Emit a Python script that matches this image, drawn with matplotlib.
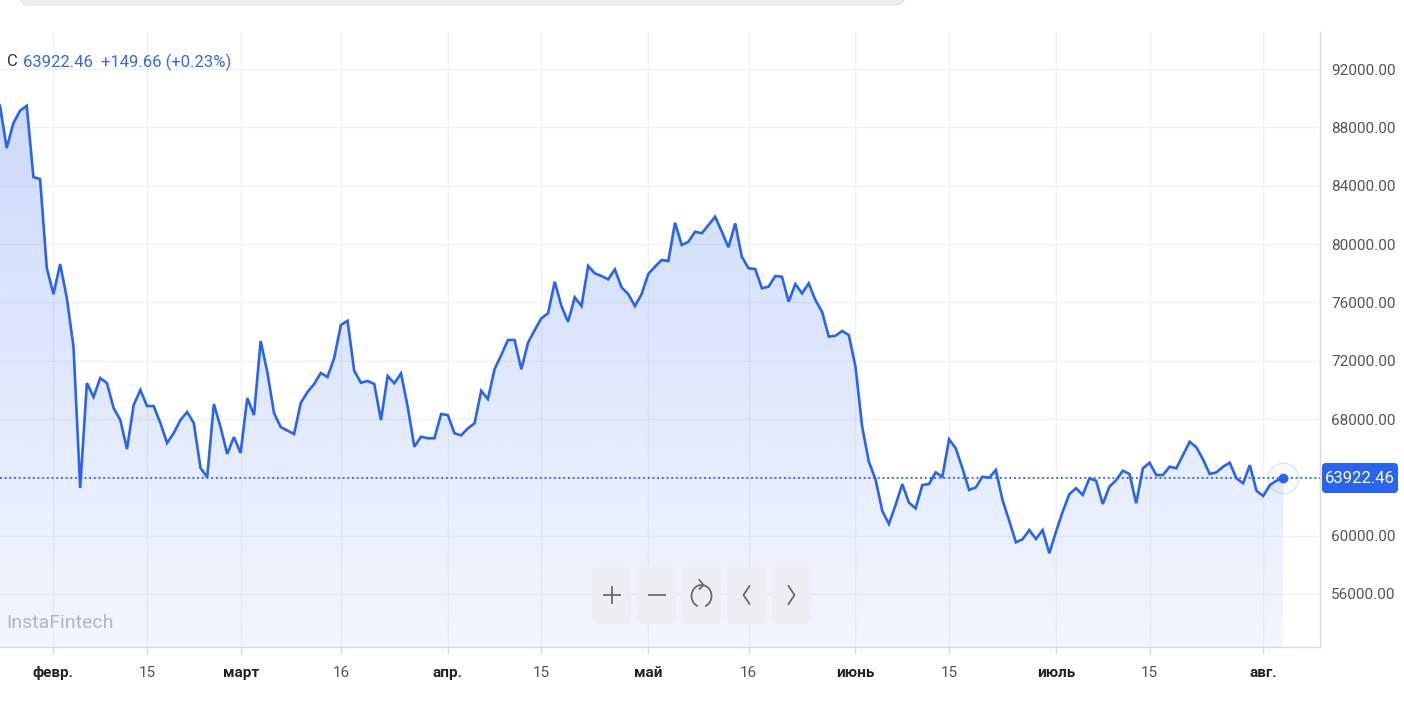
import numpy as np
import pandas as pd
import matplotlib
matplotlib.use("Agg")
import matplotlib.pyplot as plt
import matplotlib.dates as mdates
from matplotlib.patches import FancyBboxPatch, PathPatch, Arc

plt.rcParams["font.family"] = ["Roboto", "DejaVu Sans"]

# ---------------- data ----------------
dates = pd.date_range("2025-01-24", "2025-08-04", freq="D").drop(
    pd.to_datetime(["2025-03-08", "2025-05-10"]))

prices = [
    89490, 86590, 88300, 89150, 89490, 84600, 84460, 78360, 76570, 78630,
    76300, 72940, 63270, 70470, 69510, 70810, 70470, 68750, 67930, 65940,
    68960, 69990, 68890, 68890, 67720, 66350, 67040, 67930, 68480, 67720,
    64640, 64020, 69030, 67450, 65600, 66760, 65670, 69440, 68270, 73350,
    71220, 68410, 67450, 66970, 69100, 69850, 70400, 71160, 70880, 72180,
    74450, 74740, 71310, 70490, 70610, 70400, 67930, 70950, 70450, 71130,
    68840, 66100, 66790, 66680, 66680, 68340, 68270, 67020, 66880, 67360,
    67700, 69940, 69370, 71430, 72390, 73420, 73420, 71410, 73230, 74100,
    74910, 75250, 77420, 75750, 74670, 76350, 75750, 78500, 77990, 77810,
    77580, 78270, 77030, 76570, 75750, 76570, 77950, 78450, 78910, 78840,
    81470, 79940, 80160, 80850, 80740, 81880, 80850, 79780, 81420, 79130,
    78340, 78290, 76970, 77080, 77810, 77760, 76050, 77260, 76620, 77310,
    76160, 75360, 73650, 73710, 74040, 73760, 71590, 67470, 65070, 63860,
    61710, 60800, 62100, 63540, 62260, 61870, 63470, 63540, 64340, 64040,
    66610, 65990, 64620, 63130, 63310, 64040, 63970, 64500, 62440, 61020,
    59540, 59750, 60380, 59770, 60380, 58790, 60270, 61640, 62850, 63250,
    62790, 63930, 63770, 62170, 63360, 63810, 64450, 64230, 62220, 64620,
    65000, 64160, 64160, 64730, 64620, 65530, 66440, 66060, 65230, 64230,
    64340, 64730, 65000, 63930, 63590, 64840, 63080, 62720, 63470, 63772.80,
    63922.46,
]

last_price = 63922.46
change = 149.66
change_pct = 0.23

y_ticks = [56000, 60000, 64000, 68000, 72000, 76000, 80000, 84000, 88000, 92000]
x_tick_dates = ["2025-02-01", "2025-02-15", "2025-03-01", "2025-03-16",
                "2025-04-01", "2025-04-15", "2025-05-01", "2025-05-16",
                "2025-06-01", "2025-06-15", "2025-07-01", "2025-07-15",
                "2025-08-01"]
x_tick_labels = ["февр.", "15", "март", "16", "апр.", "15", "май", "16",
                 "июнь", "15", "июль", "15", "авг."]
watermark = "InstaFintech"

# ---------------- style ----------------
LINE = "#2a63ee"
GRID = "#f0f1f4"
AXIS = "#d6dae1"
W, H = 1404, 715

fig = plt.figure(figsize=(W / 100, H / 100), dpi=100)
fig.patch.set_facecolor("white")
ax = fig.add_axes([0, 68 / H, 1320 / W, 615 / H])
ax.set_facecolor("white")

xs = mdates.date2num(dates)
y0, y1 = 52360, 94550
ax.set_ylim(y0, y1)
ax.set_xlim(xs[0], xs[-1] + 5.5)

# gradient fill
fb = ax.fill_between(xs, prices, y0, facecolor="none", edgecolor="none")
path = fb.get_paths()[0]
clip = PathPatch(path, transform=ax.transData, facecolor="none", edgecolor="none")
ax.add_patch(clip)
grad = np.zeros((256, 1, 4))
rgb = matplotlib.colors.to_rgb(LINE)
grad[:, 0, :3] = rgb
grad[:, 0, 3] = np.linspace(0.26, 0.06, 256)
img = ax.imshow(grad, extent=[xs[0], xs[-1], y0, y1], aspect="auto",
                origin="upper", zorder=1, interpolation="bilinear")
img.set_clip_path(clip)

ax.plot(xs, prices, color=LINE, lw=1.9, zorder=3, solid_joinstyle="miter")
ax.axhline(last_price, color=LINE, lw=1.3, ls=(0, (1, 1.6)), zorder=2)
ax.plot(xs[-1], prices[-1], "o", ms=22, mfc=(*rgb, 0.03), mec=(*rgb, 0.15),
        mew=1, zorder=4)
ax.plot(xs[-1], prices[-1], "o", ms=6, color=LINE, zorder=5)

# axes styling (the 64000 label is hidden behind the current-price badge)
ax.set_yticks(y_ticks)
ax.set_yticklabels(["" if abs(v - last_price) < 1000 else f"{v:.2f}" for v in y_ticks])
ax.yaxis.tick_right()
ax.tick_params(axis="y", length=0, pad=8, labelsize=11, labelcolor="#555555")
ax.set_xticks(mdates.date2num(pd.to_datetime(x_tick_dates)))
ax.set_xticklabels(x_tick_labels)
ax.tick_params(axis="x", length=5, width=1, color=AXIS, pad=9, labelsize=11,
               labelcolor="#555555")
for lab in ax.get_xticklabels():
    if not lab.get_text().isdigit():
        lab.set_fontweight("bold")
        lab.set_color("#222222")
ax.grid(True, axis="y", color=GRID, lw=1, zorder=0)
ax.grid(True, axis="x", color="#f2f3f6", lw=1, zorder=0)
ax.set_axisbelow(True)
for s in ["left", "top"]:
    ax.spines[s].set_visible(False)
for s in ["right", "bottom"]:
    ax.spines[s].set_color(AXIS)
    ax.spines[s].set_linewidth(1)

# ---------------- overlay in pixel coords ----------------
ov = fig.add_axes([0, 0, 1, 1], zorder=10)
ov.set_xlim(0, W)
ov.set_ylim(H, 0)
ov.set_axis_off()
ov.patch.set_alpha(0)

# top bar (cut-off UI element)
ov.add_patch(FancyBboxPatch((20, -30), 885, 35, boxstyle="round,pad=0,rounding_size=10",
                            facecolor="#eeeeee", edgecolor="#e4e4e4", lw=1))

# header
ov.text(7, 62, "C", color="#333333", fontsize=12, va="center", ha="left")
ov.text(23, 62, f"{last_price:.2f}  {change:+.2f} ({change_pct:+.2f}%)",
        color="#3568e8", fontsize=12, va="center", ha="left")

# watermark
ov.text(6, 623, watermark, color="#b3b5bd", fontsize=14, va="center", ha="left")

# price label
ov.add_patch(FancyBboxPatch((1322, 463), 76, 30, boxstyle="round,pad=0,rounding_size=4",
                            facecolor="#2a63ee", edgecolor="none"))
ov.text(1360, 478.5, f"{last_price:.2f}", color="white", fontsize=12,
        va="center", ha="center")

# navigation buttons
btn_x = [592, 637, 682, 727, 772]
for bx in btn_x:
    ov.add_patch(FancyBboxPatch((bx, 566), 39, 58, boxstyle="round,pad=0,rounding_size=6",
                                facecolor="#eceef2", edgecolor="none", alpha=0.9))
ic = "#6a6a6a"
cy = 595
cx = btn_x[0] + 19.5
ov.plot([cx - 8, cx + 8], [cy, cy], color=ic, lw=1.3)
ov.plot([cx, cx], [cy - 8, cy + 8], color=ic, lw=1.3)
cx = btn_x[1] + 19.5
ov.plot([cx - 8, cx + 8], [cy, cy], color=ic, lw=1.3)
cx = btn_x[2] + 19.5
ov.add_patch(Arc((cx, cy + 1), 20, 22, theta1=110, theta2=430, color=ic, lw=1.3))
ov.plot([cx - 2, cx + 2, cx - 2], [cy - 15, cy - 10, cy - 6], color=ic, lw=1.3)
cx = btn_x[3] + 19.5
ov.plot([cx + 3, cx - 3, cx + 3], [cy - 9, cy, cy + 9], color=ic, lw=1.3)
cx = btn_x[4] + 19.5
ov.plot([cx - 3, cx + 3, cx - 3], [cy - 9, cy, cy + 9], color=ic, lw=1.3)

fig.savefig("out.png", dpi=100)
